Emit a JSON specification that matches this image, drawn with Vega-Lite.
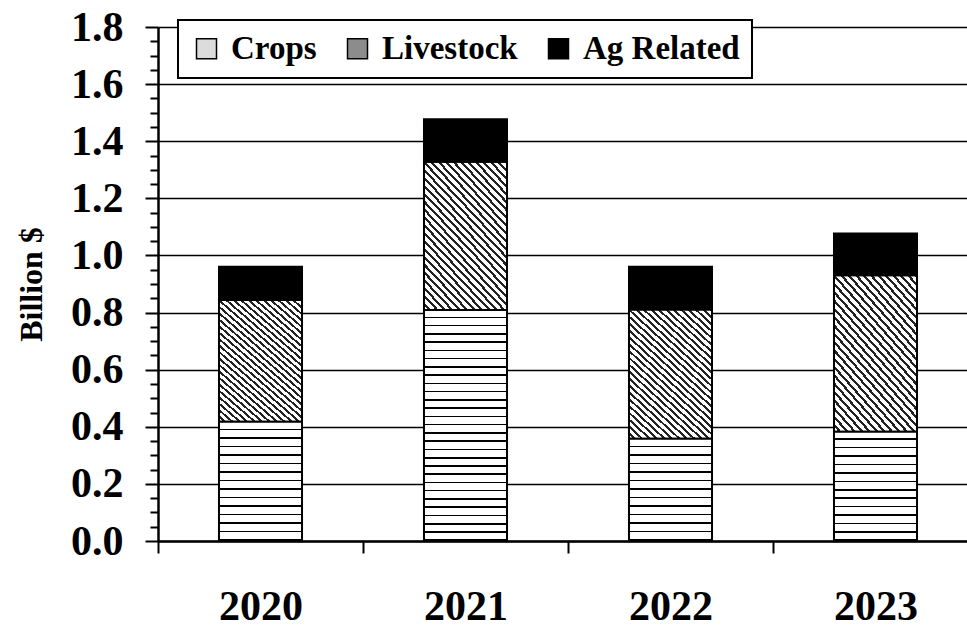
{
  "$schema": "https://vega.github.io/schema/vega-lite/v6.json",
  "width": 809,
  "height": 514,
  "autosize": {"type": "none"},
  "padding": {"left": 158, "top": 27, "right": 0, "bottom": 86},
  "background": "white",
  "config": {"view": {"stroke": null}, "font": "Liberation Serif"},
  "data": {"values": [
    {"year": "2020", "category": "Crops", "value": 0.418},
    {"year": "2020", "category": "Livestock", "value": 0.426},
    {"year": "2020", "category": "Ag Related", "value": 0.116},
    {"year": "2021", "category": "Crops", "value": 0.809},
    {"year": "2021", "category": "Livestock", "value": 0.519},
    {"year": "2021", "category": "Ag Related", "value": 0.149},
    {"year": "2022", "category": "Crops", "value": 0.358},
    {"year": "2022", "category": "Livestock", "value": 0.453},
    {"year": "2022", "category": "Ag Related", "value": 0.149},
    {"year": "2023", "category": "Crops", "value": 0.383},
    {"year": "2023", "category": "Livestock", "value": 0.548},
    {"year": "2023", "category": "Ag Related", "value": 0.146}
  ]},
  "transform": [{"window": [{"op": "row_number", "as": "idx"}]}],
  "encoding": {
    "x": {
      "field": "year", "type": "nominal", "title": null,
      "scale": {"range": [0, 820], "paddingInner": 0, "paddingOuter": 0},
      "axis": {
        "labelAngle": 0, "labelFont": "Liberation Serif", "labelFontSize": 42, "labelFontWeight": "bold",
        "labelColor": "black", "labelPadding": 33, "tickBand": "extent", "tickSize": 12, "tickWidth": 2,
        "tickColor": "black", "domainColor": "black", "domainWidth": 2.5, "grid": false
      }
    },
    "y": {
      "field": "value", "type": "quantitative", "title": "Billion $",
      "scale": {"domain": [0, 1.8], "nice": false, "zero": true},
      "axis": {
        "values": [0, 0.05, 0.1, 0.15, 0.2, 0.25, 0.3, 0.35, 0.4, 0.45, 0.5, 0.55, 0.6, 0.65, 0.7, 0.75, 0.8, 0.85, 0.9, 0.95, 1.0, 1.05, 1.1, 1.15, 1.2, 1.25, 1.3, 1.35, 1.4, 1.45, 1.5, 1.55, 1.6, 1.65, 1.7, 1.75, 1.8],
        "labelExpr": "round(datum.value*100) % 20 == 0 ? format(datum.value, '.1f') : ''",
        "labelFont": "Liberation Serif", "labelFontSize": 42, "labelFontWeight": "bold", "labelColor": "black",
        "labelPadding": 22, "labelOverlap": false, "labelBound": false, "labelFlush": false,
        "tickSize": {"condition": {"test": "round(datum.value*100) % 20 == 0", "value": 13}, "value": 8},
        "tickColor": "black", "tickWidth": 2, "domainColor": "black", "domainWidth": 2.5,
        "grid": true, "gridColor": "black", "gridWidth": 1.5,
        "gridOpacity": {"condition": {"test": "round(datum.value*100) % 20 == 0", "value": 1}, "value": 0},
        "titleFont": "Liberation Serif", "titleFontSize": 32, "titleFontWeight": "bold", "titleColor": "black",
        "titleAngle": 270, "titleX": -127, "titleAlign": "center", "titleBaseline": "middle"
      }
    }
  },
  "layer": [
    {
      "mark": {"type": "bar", "width": {"band": 0.405}, "stroke": "black", "strokeWidth": 2},
      "encoding": {
        "order": {"field": "idx", "type": "quantitative"},
        "color": {
          "condition": {"test": "datum.category === 'Livestock'", "value":
              {"gradient": "linear", "x1": 0, "y1": 1, "x2": 0.6987, "y2": -0.1786, "stops": [
                {"offset": 0, "color": "#fff"}, {"offset": 0.02, "color": "#fff"}, {"offset": 0.02, "color": "#222"}, {"offset": 0.0333, "color": "#222"},
                {"offset": 0.0333, "color": "#fff"}, {"offset": 0.0533, "color": "#fff"}, {"offset": 0.0533, "color": "#222"}, {"offset": 0.0667, "color": "#222"},
                {"offset": 0.0667, "color": "#fff"}, {"offset": 0.0867, "color": "#fff"}, {"offset": 0.0867, "color": "#222"}, {"offset": 0.1, "color": "#222"},
                {"offset": 0.1, "color": "#fff"}, {"offset": 0.12, "color": "#fff"}, {"offset": 0.12, "color": "#222"}, {"offset": 0.1333, "color": "#222"},
                {"offset": 0.1333, "color": "#fff"}, {"offset": 0.1533, "color": "#fff"}, {"offset": 0.1533, "color": "#222"}, {"offset": 0.1667, "color": "#222"},
                {"offset": 0.1667, "color": "#fff"}, {"offset": 0.1867, "color": "#fff"}, {"offset": 0.1867, "color": "#222"}, {"offset": 0.2, "color": "#222"},
                {"offset": 0.2, "color": "#fff"}, {"offset": 0.22, "color": "#fff"}, {"offset": 0.22, "color": "#222"}, {"offset": 0.2333, "color": "#222"},
                {"offset": 0.2333, "color": "#fff"}, {"offset": 0.2533, "color": "#fff"}, {"offset": 0.2533, "color": "#222"}, {"offset": 0.2667, "color": "#222"},
                {"offset": 0.2667, "color": "#fff"}, {"offset": 0.2867, "color": "#fff"}, {"offset": 0.2867, "color": "#222"}, {"offset": 0.3, "color": "#222"},
                {"offset": 0.3, "color": "#fff"}, {"offset": 0.32, "color": "#fff"}, {"offset": 0.32, "color": "#222"}, {"offset": 0.3333, "color": "#222"},
                {"offset": 0.3333, "color": "#fff"}, {"offset": 0.3533, "color": "#fff"}, {"offset": 0.3533, "color": "#222"}, {"offset": 0.3667, "color": "#222"},
                {"offset": 0.3667, "color": "#fff"}, {"offset": 0.3867, "color": "#fff"}, {"offset": 0.3867, "color": "#222"}, {"offset": 0.4, "color": "#222"},
                {"offset": 0.4, "color": "#fff"}, {"offset": 0.42, "color": "#fff"}, {"offset": 0.42, "color": "#222"}, {"offset": 0.4333, "color": "#222"},
                {"offset": 0.4333, "color": "#fff"}, {"offset": 0.4533, "color": "#fff"}, {"offset": 0.4533, "color": "#222"}, {"offset": 0.4667, "color": "#222"},
                {"offset": 0.4667, "color": "#fff"}, {"offset": 0.4867, "color": "#fff"}, {"offset": 0.4867, "color": "#222"}, {"offset": 0.5, "color": "#222"},
                {"offset": 0.5, "color": "#fff"}, {"offset": 0.52, "color": "#fff"}, {"offset": 0.52, "color": "#222"}, {"offset": 0.5333, "color": "#222"},
                {"offset": 0.5333, "color": "#fff"}, {"offset": 0.5533, "color": "#fff"}, {"offset": 0.5533, "color": "#222"}, {"offset": 0.5667, "color": "#222"},
                {"offset": 0.5667, "color": "#fff"}, {"offset": 0.5867, "color": "#fff"}, {"offset": 0.5867, "color": "#222"}, {"offset": 0.6, "color": "#222"},
                {"offset": 0.6, "color": "#fff"}, {"offset": 0.62, "color": "#fff"}, {"offset": 0.62, "color": "#222"}, {"offset": 0.6333, "color": "#222"},
                {"offset": 0.6333, "color": "#fff"}, {"offset": 0.6533, "color": "#fff"}, {"offset": 0.6533, "color": "#222"}, {"offset": 0.6667, "color": "#222"},
                {"offset": 0.6667, "color": "#fff"}, {"offset": 0.6867, "color": "#fff"}, {"offset": 0.6867, "color": "#222"}, {"offset": 0.7, "color": "#222"},
                {"offset": 0.7, "color": "#fff"}, {"offset": 0.72, "color": "#fff"}, {"offset": 0.72, "color": "#222"}, {"offset": 0.7333, "color": "#222"},
                {"offset": 0.7333, "color": "#fff"}, {"offset": 0.7533, "color": "#fff"}, {"offset": 0.7533, "color": "#222"}, {"offset": 0.7667, "color": "#222"},
                {"offset": 0.7667, "color": "#fff"}, {"offset": 0.7867, "color": "#fff"}, {"offset": 0.7867, "color": "#222"}, {"offset": 0.8, "color": "#222"},
                {"offset": 0.8, "color": "#fff"}, {"offset": 0.82, "color": "#fff"}, {"offset": 0.82, "color": "#222"}, {"offset": 0.8333, "color": "#222"},
                {"offset": 0.8333, "color": "#fff"}, {"offset": 0.8533, "color": "#fff"}, {"offset": 0.8533, "color": "#222"}, {"offset": 0.8667, "color": "#222"},
                {"offset": 0.8667, "color": "#fff"}, {"offset": 0.8867, "color": "#fff"}, {"offset": 0.8867, "color": "#222"}, {"offset": 0.9, "color": "#222"},
                {"offset": 0.9, "color": "#fff"}, {"offset": 0.92, "color": "#fff"}, {"offset": 0.92, "color": "#222"}, {"offset": 0.9333, "color": "#222"},
                {"offset": 0.9333, "color": "#fff"}, {"offset": 0.9533, "color": "#fff"}, {"offset": 0.9533, "color": "#222"}, {"offset": 0.9667, "color": "#222"},
                {"offset": 0.9667, "color": "#fff"}, {"offset": 0.9867, "color": "#fff"}, {"offset": 0.9867, "color": "#222"}, {"offset": 1, "color": "#222"}
              ]}},
          "field": "category", "type": "nominal", "sort": ["Crops", "Livestock", "Ag Related"],
          "scale": {"domain": ["Crops", "Livestock", "Ag Related"], "range": ["#dcdcdc", "#8c8c8c", "black"]},
          "legend": {
            "orient": "none", "legendX": 20, "legendY": -7, "direction": "horizontal", "title": null,
            "fillColor": "white", "strokeColor": "black", "padding": 12,
            "symbolType": "square", "symbolSize": 400, "symbolStrokeColor": "black", "symbolStrokeWidth": 1.5,
            "labelFont": "Liberation Serif", "labelFontSize": 33, "labelFontWeight": "bold", "labelColor": "black",
            "labelOffset": 8, "columnPadding": 24, "labelLimit": 400,
            "encode": {"legend": {"update": {"strokeWidth": {"value": 2}}}}
          }
        }
      }
    },
    {
      "transform": [{"filter": "datum.category === 'Crops'"}],
      "mark": {"type": "bar", "width": {"band": 0.405}, "stroke": "black", "strokeWidth": 2},
      "encoding": {
        "fill": {
          "condition": [
            {"test": "datum.year === '2020'", "value":
              {"gradient": "linear", "x1": 0, "y1": 0, "x2": 0, "y2": 1, "stops": [
                {"offset": 0, "color": "#fff"}, {"offset": 0.0579, "color": "#fff"}, {"offset": 0.0579, "color": "#000"}, {"offset": 0.0714, "color": "#000"},
                {"offset": 0.0714, "color": "#fff"}, {"offset": 0.1293, "color": "#fff"}, {"offset": 0.1293, "color": "#000"}, {"offset": 0.1429, "color": "#000"},
                {"offset": 0.1429, "color": "#fff"}, {"offset": 0.2007, "color": "#fff"}, {"offset": 0.2007, "color": "#000"}, {"offset": 0.2143, "color": "#000"},
                {"offset": 0.2143, "color": "#fff"}, {"offset": 0.2722, "color": "#fff"}, {"offset": 0.2722, "color": "#000"}, {"offset": 0.2857, "color": "#000"},
                {"offset": 0.2857, "color": "#fff"}, {"offset": 0.3436, "color": "#fff"}, {"offset": 0.3436, "color": "#000"}, {"offset": 0.3571, "color": "#000"},
                {"offset": 0.3571, "color": "#fff"}, {"offset": 0.415, "color": "#fff"}, {"offset": 0.415, "color": "#000"}, {"offset": 0.4286, "color": "#000"},
                {"offset": 0.4286, "color": "#fff"}, {"offset": 0.4864, "color": "#fff"}, {"offset": 0.4864, "color": "#000"}, {"offset": 0.5, "color": "#000"},
                {"offset": 0.5, "color": "#fff"}, {"offset": 0.5579, "color": "#fff"}, {"offset": 0.5579, "color": "#000"}, {"offset": 0.5714, "color": "#000"},
                {"offset": 0.5714, "color": "#fff"}, {"offset": 0.6293, "color": "#fff"}, {"offset": 0.6293, "color": "#000"}, {"offset": 0.6429, "color": "#000"},
                {"offset": 0.6429, "color": "#fff"}, {"offset": 0.7007, "color": "#fff"}, {"offset": 0.7007, "color": "#000"}, {"offset": 0.7143, "color": "#000"},
                {"offset": 0.7143, "color": "#fff"}, {"offset": 0.7722, "color": "#fff"}, {"offset": 0.7722, "color": "#000"}, {"offset": 0.7857, "color": "#000"},
                {"offset": 0.7857, "color": "#fff"}, {"offset": 0.8436, "color": "#fff"}, {"offset": 0.8436, "color": "#000"}, {"offset": 0.8571, "color": "#000"},
                {"offset": 0.8571, "color": "#fff"}, {"offset": 0.915, "color": "#fff"}, {"offset": 0.915, "color": "#000"}, {"offset": 0.9286, "color": "#000"},
                {"offset": 0.9286, "color": "#fff"}, {"offset": 0.9865, "color": "#fff"}, {"offset": 0.9865, "color": "#000"}, {"offset": 1, "color": "#000"}
              ]}},
            {"test": "datum.year === '2021'", "value":
              {"gradient": "linear", "x1": 0, "y1": 0, "x2": 0, "y2": 1, "stops": [
                {"offset": 0, "color": "#fff"}, {"offset": 0.0289, "color": "#fff"}, {"offset": 0.0289, "color": "#000"}, {"offset": 0.0357, "color": "#000"},
                {"offset": 0.0357, "color": "#fff"}, {"offset": 0.0647, "color": "#fff"}, {"offset": 0.0647, "color": "#000"}, {"offset": 0.0714, "color": "#000"},
                {"offset": 0.0714, "color": "#fff"}, {"offset": 0.1004, "color": "#fff"}, {"offset": 0.1004, "color": "#000"}, {"offset": 0.1071, "color": "#000"},
                {"offset": 0.1071, "color": "#fff"}, {"offset": 0.1361, "color": "#fff"}, {"offset": 0.1361, "color": "#000"}, {"offset": 0.1429, "color": "#000"},
                {"offset": 0.1429, "color": "#fff"}, {"offset": 0.1718, "color": "#fff"}, {"offset": 0.1718, "color": "#000"}, {"offset": 0.1786, "color": "#000"},
                {"offset": 0.1786, "color": "#fff"}, {"offset": 0.2075, "color": "#fff"}, {"offset": 0.2075, "color": "#000"}, {"offset": 0.2143, "color": "#000"},
                {"offset": 0.2143, "color": "#fff"}, {"offset": 0.2432, "color": "#fff"}, {"offset": 0.2432, "color": "#000"}, {"offset": 0.25, "color": "#000"},
                {"offset": 0.25, "color": "#fff"}, {"offset": 0.2789, "color": "#fff"}, {"offset": 0.2789, "color": "#000"}, {"offset": 0.2857, "color": "#000"},
                {"offset": 0.2857, "color": "#fff"}, {"offset": 0.3146, "color": "#fff"}, {"offset": 0.3146, "color": "#000"}, {"offset": 0.3214, "color": "#000"},
                {"offset": 0.3214, "color": "#fff"}, {"offset": 0.3504, "color": "#fff"}, {"offset": 0.3504, "color": "#000"}, {"offset": 0.3571, "color": "#000"},
                {"offset": 0.3571, "color": "#fff"}, {"offset": 0.3861, "color": "#fff"}, {"offset": 0.3861, "color": "#000"}, {"offset": 0.3929, "color": "#000"},
                {"offset": 0.3929, "color": "#fff"}, {"offset": 0.4218, "color": "#fff"}, {"offset": 0.4218, "color": "#000"}, {"offset": 0.4286, "color": "#000"},
                {"offset": 0.4286, "color": "#fff"}, {"offset": 0.4575, "color": "#fff"}, {"offset": 0.4575, "color": "#000"}, {"offset": 0.4643, "color": "#000"},
                {"offset": 0.4643, "color": "#fff"}, {"offset": 0.4932, "color": "#fff"}, {"offset": 0.4932, "color": "#000"}, {"offset": 0.5, "color": "#000"},
                {"offset": 0.5, "color": "#fff"}, {"offset": 0.5289, "color": "#fff"}, {"offset": 0.5289, "color": "#000"}, {"offset": 0.5357, "color": "#000"},
                {"offset": 0.5357, "color": "#fff"}, {"offset": 0.5647, "color": "#fff"}, {"offset": 0.5647, "color": "#000"}, {"offset": 0.5714, "color": "#000"},
                {"offset": 0.5714, "color": "#fff"}, {"offset": 0.6004, "color": "#fff"}, {"offset": 0.6004, "color": "#000"}, {"offset": 0.6071, "color": "#000"},
                {"offset": 0.6071, "color": "#fff"}, {"offset": 0.6361, "color": "#fff"}, {"offset": 0.6361, "color": "#000"}, {"offset": 0.6429, "color": "#000"},
                {"offset": 0.6429, "color": "#fff"}, {"offset": 0.6718, "color": "#fff"}, {"offset": 0.6718, "color": "#000"}, {"offset": 0.6786, "color": "#000"},
                {"offset": 0.6786, "color": "#fff"}, {"offset": 0.7075, "color": "#fff"}, {"offset": 0.7075, "color": "#000"}, {"offset": 0.7143, "color": "#000"},
                {"offset": 0.7143, "color": "#fff"}, {"offset": 0.7432, "color": "#fff"}, {"offset": 0.7432, "color": "#000"}, {"offset": 0.75, "color": "#000"},
                {"offset": 0.75, "color": "#fff"}, {"offset": 0.7789, "color": "#fff"}, {"offset": 0.7789, "color": "#000"}, {"offset": 0.7857, "color": "#000"},
                {"offset": 0.7857, "color": "#fff"}, {"offset": 0.8146, "color": "#fff"}, {"offset": 0.8146, "color": "#000"}, {"offset": 0.8214, "color": "#000"},
                {"offset": 0.8214, "color": "#fff"}, {"offset": 0.8504, "color": "#fff"}, {"offset": 0.8504, "color": "#000"}, {"offset": 0.8571, "color": "#000"},
                {"offset": 0.8571, "color": "#fff"}, {"offset": 0.8861, "color": "#fff"}, {"offset": 0.8861, "color": "#000"}, {"offset": 0.8929, "color": "#000"},
                {"offset": 0.8929, "color": "#fff"}, {"offset": 0.9218, "color": "#fff"}, {"offset": 0.9218, "color": "#000"}, {"offset": 0.9286, "color": "#000"},
                {"offset": 0.9286, "color": "#fff"}, {"offset": 0.9575, "color": "#fff"}, {"offset": 0.9575, "color": "#000"}, {"offset": 0.9643, "color": "#000"},
                {"offset": 0.9643, "color": "#fff"}, {"offset": 0.9932, "color": "#fff"}, {"offset": 0.9932, "color": "#000"}, {"offset": 1, "color": "#000"}
              ]}},
            {"test": "datum.year === '2022'", "value":
              {"gradient": "linear", "x1": 0, "y1": 0, "x2": 0, "y2": 1, "stops": [
                {"offset": 0, "color": "#fff"}, {"offset": 0.0675, "color": "#fff"}, {"offset": 0.0675, "color": "#000"}, {"offset": 0.0833, "color": "#000"},
                {"offset": 0.0833, "color": "#fff"}, {"offset": 0.1508, "color": "#fff"}, {"offset": 0.1508, "color": "#000"}, {"offset": 0.1667, "color": "#000"},
                {"offset": 0.1667, "color": "#fff"}, {"offset": 0.2342, "color": "#fff"}, {"offset": 0.2342, "color": "#000"}, {"offset": 0.25, "color": "#000"},
                {"offset": 0.25, "color": "#fff"}, {"offset": 0.3175, "color": "#fff"}, {"offset": 0.3175, "color": "#000"}, {"offset": 0.3333, "color": "#000"},
                {"offset": 0.3333, "color": "#fff"}, {"offset": 0.4008, "color": "#fff"}, {"offset": 0.4008, "color": "#000"}, {"offset": 0.4167, "color": "#000"},
                {"offset": 0.4167, "color": "#fff"}, {"offset": 0.4842, "color": "#fff"}, {"offset": 0.4842, "color": "#000"}, {"offset": 0.5, "color": "#000"},
                {"offset": 0.5, "color": "#fff"}, {"offset": 0.5675, "color": "#fff"}, {"offset": 0.5675, "color": "#000"}, {"offset": 0.5833, "color": "#000"},
                {"offset": 0.5833, "color": "#fff"}, {"offset": 0.6508, "color": "#fff"}, {"offset": 0.6508, "color": "#000"}, {"offset": 0.6667, "color": "#000"},
                {"offset": 0.6667, "color": "#fff"}, {"offset": 0.7342, "color": "#fff"}, {"offset": 0.7342, "color": "#000"}, {"offset": 0.75, "color": "#000"},
                {"offset": 0.75, "color": "#fff"}, {"offset": 0.8175, "color": "#fff"}, {"offset": 0.8175, "color": "#000"}, {"offset": 0.8333, "color": "#000"},
                {"offset": 0.8333, "color": "#fff"}, {"offset": 0.9008, "color": "#fff"}, {"offset": 0.9008, "color": "#000"}, {"offset": 0.9167, "color": "#000"},
                {"offset": 0.9167, "color": "#fff"}, {"offset": 0.9842, "color": "#fff"}, {"offset": 0.9842, "color": "#000"}, {"offset": 1, "color": "#000"}
              ]}}
          ],
          "value": {"gradient": "linear", "x1": 0, "y1": 0, "x2": 0, "y2": 1, "stops": [
                {"offset": 0, "color": "#fff"}, {"offset": 0.0623, "color": "#fff"}, {"offset": 0.0623, "color": "#000"}, {"offset": 0.0769, "color": "#000"},
                {"offset": 0.0769, "color": "#fff"}, {"offset": 0.1392, "color": "#fff"}, {"offset": 0.1392, "color": "#000"}, {"offset": 0.1538, "color": "#000"},
                {"offset": 0.1538, "color": "#fff"}, {"offset": 0.2162, "color": "#fff"}, {"offset": 0.2162, "color": "#000"}, {"offset": 0.2308, "color": "#000"},
                {"offset": 0.2308, "color": "#fff"}, {"offset": 0.2931, "color": "#fff"}, {"offset": 0.2931, "color": "#000"}, {"offset": 0.3077, "color": "#000"},
                {"offset": 0.3077, "color": "#fff"}, {"offset": 0.37, "color": "#fff"}, {"offset": 0.37, "color": "#000"}, {"offset": 0.3846, "color": "#000"},
                {"offset": 0.3846, "color": "#fff"}, {"offset": 0.4469, "color": "#fff"}, {"offset": 0.4469, "color": "#000"}, {"offset": 0.4615, "color": "#000"},
                {"offset": 0.4615, "color": "#fff"}, {"offset": 0.5238, "color": "#fff"}, {"offset": 0.5238, "color": "#000"}, {"offset": 0.5385, "color": "#000"},
                {"offset": 0.5385, "color": "#fff"}, {"offset": 0.6008, "color": "#fff"}, {"offset": 0.6008, "color": "#000"}, {"offset": 0.6154, "color": "#000"},
                {"offset": 0.6154, "color": "#fff"}, {"offset": 0.6777, "color": "#fff"}, {"offset": 0.6777, "color": "#000"}, {"offset": 0.6923, "color": "#000"},
                {"offset": 0.6923, "color": "#fff"}, {"offset": 0.7546, "color": "#fff"}, {"offset": 0.7546, "color": "#000"}, {"offset": 0.7692, "color": "#000"},
                {"offset": 0.7692, "color": "#fff"}, {"offset": 0.8315, "color": "#fff"}, {"offset": 0.8315, "color": "#000"}, {"offset": 0.8462, "color": "#000"},
                {"offset": 0.8462, "color": "#fff"}, {"offset": 0.9085, "color": "#fff"}, {"offset": 0.9085, "color": "#000"}, {"offset": 0.9231, "color": "#000"},
                {"offset": 0.9231, "color": "#fff"}, {"offset": 0.9854, "color": "#fff"}, {"offset": 0.9854, "color": "#000"}, {"offset": 1, "color": "#000"}
              ]}
        }
      }
    }
  ]
}
